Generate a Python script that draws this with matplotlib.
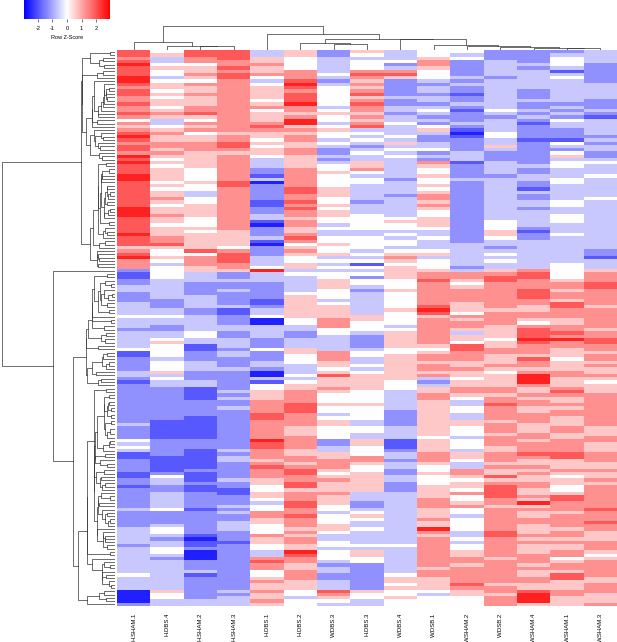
import numpy as np
import matplotlib
matplotlib.use("Agg")
from matplotlib import pyplot as plt
from matplotlib.colors import LinearSegmentedColormap

plt.rcParams["font.family"] = ["Liberation Sans", "DejaVu Sans"]
plt.rcParams["axes.unicode_minus"] = False

samples = ["H.SHAM.1", "H.DBS.4", "H.SHAM.2", "H.SHAM.3", "H.DBS.1", "H.DBS.2",
           "W.DBS.3", "H.DBS.3", "W.DBS.4", "W.DSB.1", "W.SHAM.2", "W.DSB.2",
           "W.SHAM.4", "W.SHAM.1", "W.SHAM.3"]

# z-score levels, one string per column (top row first)
# digit d -> z = (d - 4) * 0.64
col_codes = [
    "77678 77788 76776 67667 64656 78767 7687  87778 87777 77778 88777 77877 75678 666"
    "21122 33222 33334 33323 33334 11222 2332  12222 22222 22232 22243 43112 22211 2212"
    "22222 32222 23333 32333 33333 43333 00002",
    "45334 54434 55454 55456 53345 65566 5654  54555 54545 56545 56554 55566 75445 434"
    "44433 33332 22334 33223 34544 44344 4534  33222 22222 22111 11122 22211 11124 3322"
    "33333 42222 34432 33443 23333 33333 54433",
    "77664 55654 65565 55667 54656 45566 6555  55444 45443 34455 55444 54555 55746 665"
    "53332 22233 33223 33334 43311 22233 3222  33111 12222 21111 11122 21111 11211 1211"
    "22222 12222 22210 11200 02223 12222 22233",
    "77766 76776 66666 66666 66666 56677 6566  66666 67766 66666 66666 65555 54677 766"
    "52232 23222 23112 22332 23332 33222 3222  22232 32232 22222 22222 23233 22222 3221"
    "12223 23223 33222 12222 22222 22222 32333",
    "33556 55643 45555 45645 55676 55454 5543  33221 30222 22112 23310 22231 02223 334"
    "83332 22221 12334 00333 32224 22233 2003  14455 56666 77666 66687 76665 67666 5544"
    "55434 46655 44465 54433 67664 45655 65565",
    "55444 46667 87677 78665 68856 56655 6655  55666 66677 66767 66566 55676 45654 455"
    "34333 33455 55555 44332 23335 54443 3343  45566 66777 66665 55666 65566 56776 6775"
    "66677 66766 65656 65587 66556 66555 44344",
    "22333 33432 34444 44345 44345 44343 2232  34454 44455 54454 55443 43344 54453 434"
    "34455 54443 45555 66644 33333 66655 4575  55654 44544 34554 44422 33556 66545 6555"
    "65554 43444 55433 44344 43233 22333 76543",
    "54344 46765 65675 67665 65673 43432 3433  55643 44333 33233 34444 43344 44343 414"
    "34244 32333 33335 54443 22223 44334 3455  55544 44544 44334 43355 44466 54455 5555"
    "33322 34543 34333 34355 44222 22222 54433",
    "33342 36752 22223 22332 33433 34353 4343  33333 23333 23333 33454 43434 43456 545"
    "55544 45444 44544 44345 55554 45555 5555  44433 33332 22223 33311 12332 33223 3222"
    "33333 33333 33333 34333 33333 45545 44544",
    "44566 54443 23323 32343 23245 32233 4232  65445 44545 66565 44555 43343 33453 444"
    "56676 66666 67875 66666 66654 56656 6563  23556 65555 55555 55455 55666 54454 4455"
    "55666 55565 58656 66666 66656 65555 43444",
    "43422 22232 32212 23212 22321 01222 2333  12222 32222 22222 22222 22222 33333 332"
    "36654 56666 55546 56653 55477 66655 6554  55665 43344 33554 44344 43554 33665 4554"
    "64456 44344 44334 34455 66566 66676 55444",
    "22233 33323 33333 33343 23333 44335 3222  33332 33333 33333 33344 45543 32343 433"
    "56776 66666 66566 66555 54556 65556 5455  55665 66766 66566 65666 55666 56557 5677"
    "77665 66666 66776 66666 56666 66656 65666",
    "22223 23333 33222 32232 32122 22122 2222  23223 32213 22332 33333 21223 33333 333"
    "67766 67776 65566 54677 78766 65766 5688  86556 56655 66655 56656 66765 56565 5665"
    "56585 65566 55565 65556 66565 56655 78885",
    "23444 31343 33333 32323 24332 22143 2453  44333 44333 33443 34443 33433 33333 344"
    "44456 65665 77666 55667 68665 55455 5665  55676 55656 65556 65566 66775 55654 5544"
    "57766 65666 65665 65566 45665 77555 66555",
    "33332 22222 33333 22232 13333 32323 3223  43334 33333 34333 33333 33333 33221 333"
    "56667 76666 65666 66656 67766 56656 5565  45556 66666 66665 55665 55666 55655 6566"
    "66666 76667 66555 66654 56666 65566 65556",
]

# column dendrogram: (left, right, height in px above the map)
col_merges = [
    (2, 3, 3.7), (1, 15, 4.3), (0, 16, 7.7),
    (6, 7, 5.7), (5, 18, 7.3),
    (13, 14, 1.7), (12, 20, 2.3), (11, 21, 3.0), (10, 22, 4.0), (9, 23, 4.7),
    (8, 24, 11.0), (19, 25, 11.3), (4, 26, 15.7), (17, 27, 24.0),
]

cols = ["".join(c.split()) for c in col_codes]
Z = (np.array([[int(ch) for ch in c] for c in cols]).T - 4) * 0.64
nrow, ncol = Z.shape

W, H = 617, 642
fig = plt.figure(figsize=(W / 100, H / 100), dpi=100)

hm_l, hm_r, hm_t, hm_b = 117, 617, 50, 606
cmap = LinearSegmentedColormap.from_list("bwr2", ["#0000ff", "#ffffff", "#ff0000"])
vlim = 2.95

ax = fig.add_axes([hm_l / W, 1 - hm_b / H, (hm_r - hm_l) / W, (hm_b - hm_t) / H])
im = ax.imshow(Z, aspect="auto", cmap=cmap, vmin=-vlim, vmax=vlim, interpolation="nearest")
ax.set_xticks(range(ncol))
ax.set_xticklabels(samples, rotation=90, fontsize=4.3, va="top", ha="center")
ax.tick_params(axis="x", length=0, pad=5)
ax.set_yticks([])
for s in ax.spines.values():
    s.set_visible(False)

# row dendrogram (neighbour merges, keeps the row order of the map)
D = np.sqrt(((Z[:, None, :] - Z[None, :, :]) ** 2).sum(-1))
clusters = [[i] for i in range(nrow)]
pos = [float(i) for i in range(nrow)]
hts = [0.0] * nrow
rsegs = []
while len(clusters) > 1:
    d = [D[np.ix_(clusters[k], clusters[k + 1])].mean() for k in range(len(clusters) - 1)]
    k = int(np.argmin(d))
    h = max(d[k] ** 1.8, hts[k], hts[k + 1])
    rsegs.append(([hts[k], h, h, hts[k + 1]], [pos[k], pos[k], pos[k + 1], pos[k + 1]]))
    clusters[k:k + 2] = [clusters[k] + clusters[k + 1]]
    pos[k:k + 2] = [(pos[k] + pos[k + 1]) / 2]
    hts[k:k + 2] = [h]

axr = fig.add_axes([2 / W, 1 - hm_b / H, 113 / W, (hm_b - hm_t) / H])
for xs, ys in rsegs:
    axr.plot(xs, ys, color="#333333", lw=0.5)
axr.set_xlim(hts[0], 0)
axr.set_ylim(nrow - 0.5, -0.5)
axr.axis("off")

# column dendrogram
cpos = [float(i) for i in range(ncol)]
chts = [0.0] * ncol
axc = fig.add_axes([hm_l / W, 1 - hm_t / H, (hm_r - hm_l) / W, 24 / H])
for a, b, h in col_merges:
    axc.plot([cpos[a], cpos[a], cpos[b], cpos[b]], [chts[a], h, h, chts[b]], color="#333333", lw=0.5)
    cpos.append((cpos[a] + cpos[b]) / 2)
    chts.append(h)
axc.set_xlim(-0.5, ncol - 0.5)
axc.set_ylim(0, 24)
axc.axis("off")

# colour key
axk = fig.add_axes([24 / W, 1 - 19 / H, 86 / W, 19 / H])
cb = fig.colorbar(im, cax=axk, orientation="horizontal", ticks=[-2, -1, 0, 1, 2])
cb.outline.set_visible(False)
cb.ax.tick_params(labelsize=4, length=2, width=0.4, pad=3)
cb.set_label("Row Z-Score", fontsize=4, labelpad=3)

fig.savefig("out.png", dpi=100)
